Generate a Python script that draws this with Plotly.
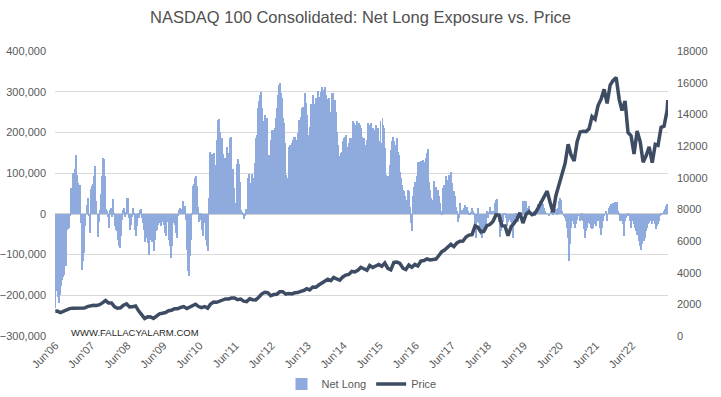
import pandas as pd
import plotly.graph_objects as go

# ---------------- data ----------------
# Net long exposure (thousands of contracts), one reading every ~10 days, Jun 2006 -> Jun 2023
net_long_k = [
    -231,-162,-190,-203,-219,-200,-178,-162,-155,-150,-129,-129,-39,-38,-35,-5,
    63,50,100,85,110,145,95,76,40,70,
    -22,-137,-117,-96,-31,0,22,39,-5,-47,
    60,69,73,93,118,32,0,-58,-20,10,
    48,93,138,134,93,12,8,-7,-35,10,
    15,-7,36,-2,-31,-39,-43,-64,-80,-84,
    -55,-15,10,15,-8,5,40,40,-10,-39,
    -27,-7,15,-2,-39,-55,-31,2,-10,10,
    12,-10,-23,-39,-68,-60,-51,-72,-100,-55,
    -64,-68,-55,-92,-64,-43,-39,-27,-15,-23,
    -31,-19,-15,-27,-47,-55,-19,-15,-64,-80,
    -109,-80,-23,-23,-27,-47,-60,-6,10,15,
    5,12,32,5,20,-15,-88,-141,-153,-104,
    -64,-2,69,73,89,93,69,18,-19,-2,
    -15,-39,-55,-19,-23,-64,-80,-92,
    38,153,130,147,147,149,119,114,182,231,
    233,202,187,187,147,137,137,45,165,137,
    149,186,190,110,110,63,6,26,122,135,
    122,79,10,4,-2,-12,-6,12,12,88,
    97,75,63,97,79,88,124,186,194,259,
    276,292,300,259,227,227,243,223,235,145,
    145,122,182,206,202,206,210,235,259,292,
    317,321,296,284,235,223,173,96,89,88,
    165,169,124,173,182,190,190,182,182,198,
    231,231,239,259,263,263,296,272,243,194,
    194,214,269,269,292,269,255,284,284,302,
    288,288,300,312,296,304,312,292,282,243,
    284,251,251,296,296,268,280,251,202,169,
    141,120,149,153,178,186,190,194,163,163,
    173,186,165,186,227,223,218,165,227,220,
    223,218,210,190,186,186,
    169,153,182,222,218,210,222,198,210,186,
    206,218,206,210,178,169,227,173,235,218,
    210,161,96,47,92,88,120,157,178,190,
    178,157,169,186,153,145,104,88,71,59,
    55,43,32,34,59,55,18,-23,-43,43,
    67,79,63,92,128,126,128,130,112,133,
    92,128,137,149,160,79,59,38,34,18,
    81,63,67,47,59,43,26,6,-2,63,
    71,67,92,83,63,96,79,104,75,47,
    55,43,18,6,-19,-11,26,6,10,6,
    14,22,10,18,6,-2,-2,4,14,6,
    -2,-31,-60,-19,14,-23,-47,-52,-60,-39,
    -27,-35,-27,6,-11,4,18,6,2,6,
    4,26,34,37,-2,-19,-56,-43,-35,-19,
    -2,2,-11,-31,-19,-15,-11,-19,-35,-60,
    -27,-11,-2,-11,-19,
    -6,2,-10,-2,31,31,23,31,15,7,
    19,7,2,-3,2,7,-6,0,7,23,
    11,31,27,31,23,15,7,0,2,0,
    -6,0,7,0,-3,2,7,13,-2,15,
    31,39,35,7,0,-6,-10,-18,-34,-59,
    -116,-75,-34,-18,-18,-26,-34,-26,-14,0,
    -6,-18,-14,-3,-18,-38,-59,-43,-34,-18,
    -22,-26,-34,-38,-34,-18,-26,-30,-18,-14,
    -18,-34,-51,-34,-18,-6,0,7,-18,0,
    15,19,23,19,27,19,29,19,29,7,
    -2,-18,-14,-18,-26,-55,-18,-10,-6,2,
    -6,-18,-34,-14,-18,-26,-34,-43,-51,-47,
    -67,-79,-88,-75,-59,-67,-59,-43,-34,-26,
    -22,-14,-18,-26,-10,-18,-26,-38,-30,-26,
    -18,-6,-3,0,2,7,13,19,25,23,
]
net_long_start = "2006-06-09"
net_long_end = "2023-06-07"

# NASDAQ 100 price, month-end closes (Jun 2006 -> May 2023), plus first and last weekly points
price_first = ("2006-06-09", 1560)
price_last = ("2023-06-07", 14900)
price_month_start = "2006-06"
price_monthly = [
    1575, 1480, 1580, 1650, 1730, 1760, 1756,
    1790, 1750, 1770, 1860, 1920, 1935, 1930, 1980, 2090, 2240, 2090, 2085,
    1840, 1750, 1780, 1950, 2030, 1840, 1850, 1900, 1590, 1300, 1110, 1210,
    1200, 1110, 1240, 1400, 1440, 1480, 1600, 1630, 1720, 1720, 1800, 1860,
    1740, 1820, 1960, 2010, 1860, 1790, 1860, 1760, 2020, 2140, 2130, 2220,
    2270, 2340, 2340, 2400, 2400, 2290, 2330, 2200, 2170, 2350, 2290, 2280,
    2450, 2650, 2760, 2740, 2540, 2620, 2640, 2790, 2800, 2650, 2680, 2660,
    2730, 2740, 2820, 2870, 2990, 2910, 3090, 3080, 3220, 3360, 3490, 3590,
    3500, 3700, 3600, 3530, 3730, 3850, 3890, 4080, 4050, 4150, 4340, 4240,
    4150, 4450, 4330, 4420, 4510, 4400, 4610, 4270, 4180, 4650, 4670, 4590,
    4280, 4200, 4480, 4340, 4520, 4420, 4730, 4770, 4870, 4800, 4810, 4860,
    5100, 5330, 5440, 5580, 5790, 5650, 5880, 5990, 6000, 6250, 6370, 6400,
    6950, 6870, 6580, 6610, 6970, 7040, 7240, 7650, 7630, 6970, 6950, 6330,
    6910, 7100, 7380, 7780, 7130, 7670, 7850, 7660, 7750, 8080, 8400, 8730,
    9150, 8460, 7810, 8890, 9550, 10160, 10900, 12110, 11420, 11050, 12270, 12890,
    12930, 12910, 13090, 13860, 13690, 14550, 14960, 15580, 14690, 15850, 16140, 16320,
    14930, 14240, 14840, 12850, 12640, 11500, 12950, 12270, 10970, 11400, 11950, 10940,
    12100, 12040, 13180, 13250, 14250,
]

left_ticks = [-300000, -200000, -100000, 0, 100000, 200000, 300000, 400000]
right_ticks = list(range(0, 18001, 2000))

# ---------------- build ----------------
nl_dates = pd.date_range(net_long_start, net_long_end, periods=len(net_long_k))
nl_values = [v * 1000 for v in net_long_k]

month_ends = pd.date_range(price_month_start, periods=len(price_monthly), freq="ME")
price_dates = [pd.Timestamp(price_first[0])] + list(month_ends) + [pd.Timestamp(price_last[0])]
price_values = [price_first[1]] + price_monthly + [price_last[1]]

FONT = "Liberation Sans, Arial, sans-serif"
GREY = "#595959"

fig = go.Figure()
fig.add_trace(go.Bar(
    x=nl_dates, y=nl_values, name="Net Long",
    marker=dict(color="#8FAADC", line=dict(width=0)),
    yaxis="y",
))
fig.add_trace(go.Scatter(
    x=price_dates, y=price_values, name="Price", mode="lines",
    line=dict(color="#3E4C63", width=3.5),
    yaxis="y2",
))

fig.update_layout(
    width=721, height=397,
    margin=dict(l=55, r=53, t=51, b=61, autoexpand=False),
    paper_bgcolor="white", plot_bgcolor="white",
    bargap=0,
    font=dict(family=FONT, color=GREY, size=11),
    title=dict(
        text="NASDAQ 100 Consolidated: Net Long Exposure vs. Price",
        x=0.5, xanchor="center", y=1 - 17 / 397, yanchor="middle",
        font=dict(family=FONT, size=16.5, color="#505050"),
    ),
    xaxis=dict(
        type="date", automargin=False,
        range=["2006-06-06", "2023-06-09"],
        tick0="2006-06-10", dtick="M12", tickformat="%b'%y",
        tickangle=-45, showgrid=False, zeroline=False, showline=False,
        ticks="", tickfont=dict(size=11, color=GREY),
    ),
    yaxis=dict(
        range=[-300000, 400000], tickvals=left_ticks, tickformat=",",
        automargin=False,
        showgrid=True, gridcolor="#D9D9D9", gridwidth=1,
        zeroline=True, zerolinecolor="#D0D0D0", zerolinewidth=1.5,
        showline=False, ticks="", ticklabelstandoff=8,
        tickfont=dict(size=11, color=GREY),
    ),
    yaxis2=dict(
        range=[0, 18000], tickvals=right_ticks, tickformat="d",
        automargin=False,
        overlaying="y", side="right", showgrid=False, zeroline=False,
        showline=False, ticks="", ticklabelstandoff=8,
        tickfont=dict(size=11, color=GREY),
    ),
    legend=dict(
        orientation="h", x=0.5, xanchor="center",
        y=-(384 - 336) / 285, yanchor="middle",
        font=dict(size=11, color=GREY), traceorder="normal",
        bgcolor="rgba(0,0,0,0)",
    ),
    annotations=[dict(
        text="WWW.FALLACYALARM.COM", xref="paper", yref="paper",
        x=(69 - 55) / 613, y=(336 - 332) / 285, xanchor="left", yanchor="middle",
        showarrow=False, font=dict(family=FONT, size=9.5, color="#262626"),
    )],
)

fig.write_html(
    "out.html",
    config={"displayModeBar": False},
    post_script="document.body.style.margin='0';",
)
